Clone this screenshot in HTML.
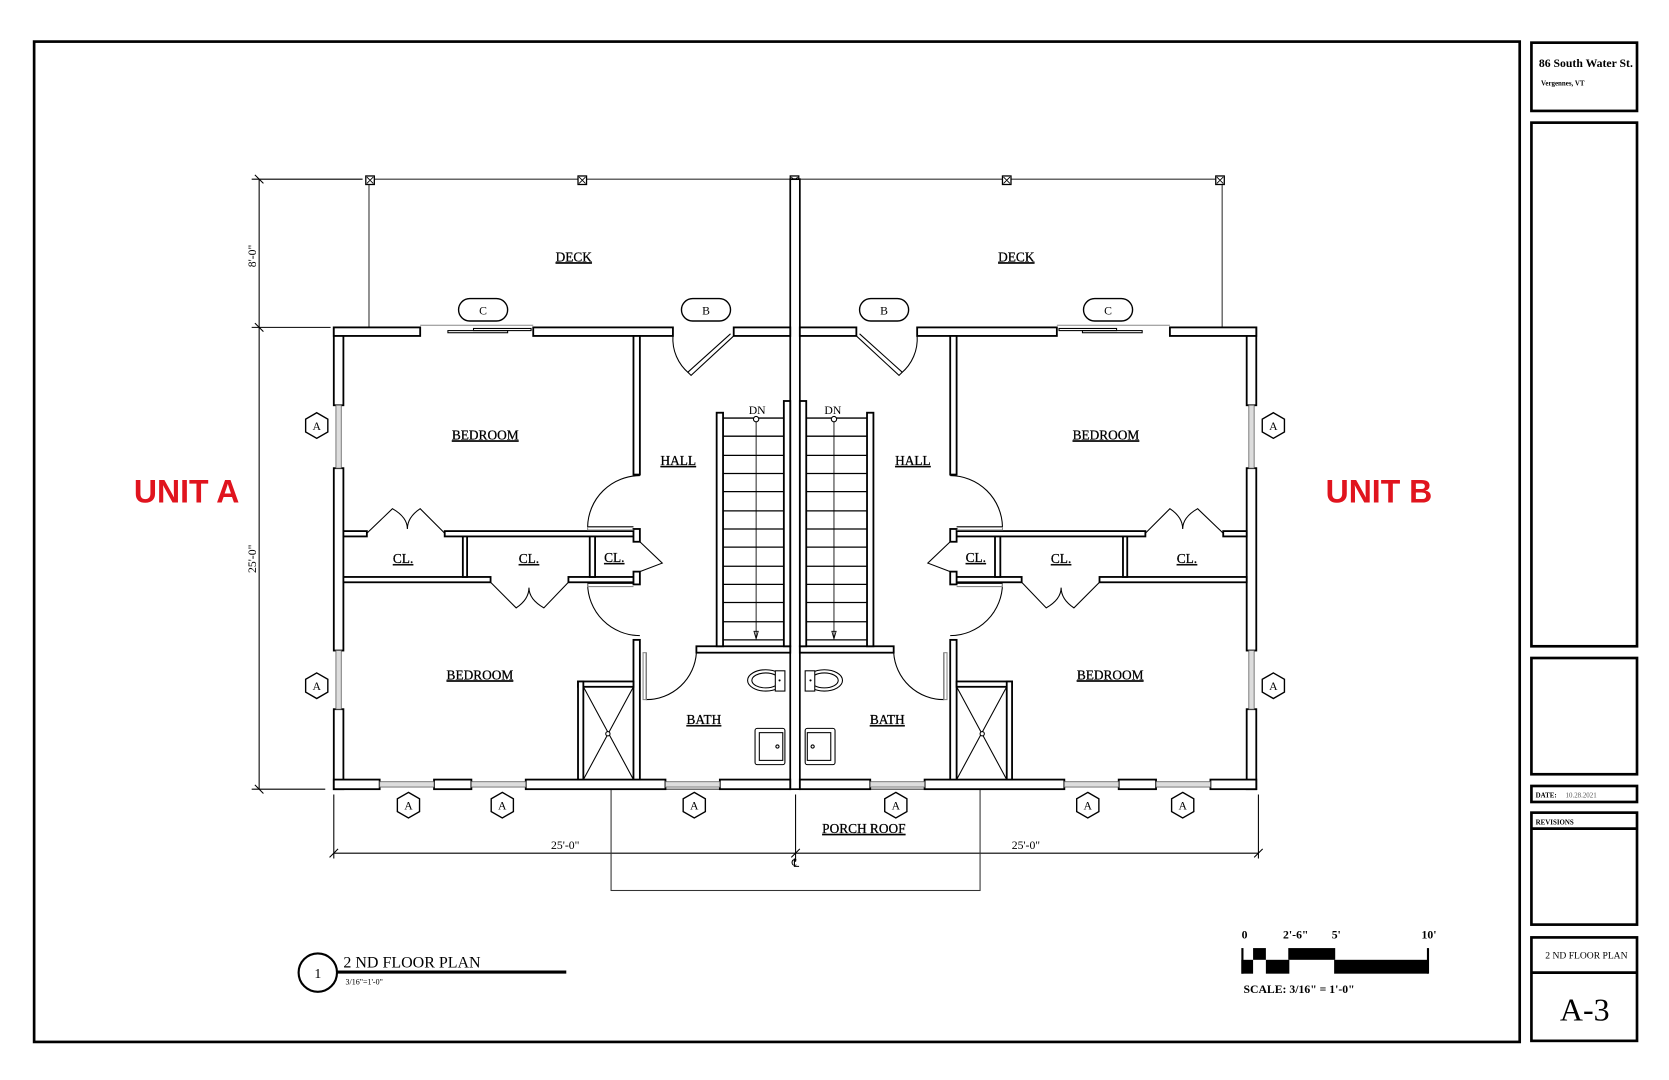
<!DOCTYPE html>
<html><head><meta charset="utf-8"><style>html,body{margin:0;padding:0;background:#fff}svg{display:block}</style></head>
<body>
<svg width="1669" height="1080" viewBox="0 0 1565 1012.7" preserveAspectRatio="none" xmlns="http://www.w3.org/2000/svg" font-family="'Liberation Serif',serif">
<rect x="0" y="0" width="1565" height="1013" fill="#fff"/>
<rect x="32" y="39" width="1393" height="938" fill="none" stroke="#000" stroke-width="2.5"/>
<g fill="none" stroke="#000" stroke-width="2.5">
<rect x="1436" y="40" width="99" height="64"/>
<rect x="1436" y="115" width="99" height="491"/>
<rect x="1436" y="617" width="99" height="109"/>
<rect x="1436" y="737" width="99" height="15"/>
<rect x="1436" y="762" width="99" height="105"/>
<line x1="1436" y1="777" x2="1535" y2="777"/>
<rect x="1436" y="879" width="99" height="97"/>
<line x1="1436" y1="912" x2="1535" y2="912"/>
</g>
<text x="1443" y="63" font-size="11" font-weight="bold">86 South Water St.</text>
<text x="1445" y="80" font-size="6.5" font-weight="bold">Vergennes, VT</text>
<text x="1440" y="748" font-size="6.5" font-weight="bold">DATE:</text>
<text x="1468" y="748" font-size="6.5" fill="#555">10.28.2021</text>
<text x="1440" y="773" font-size="6.5" font-weight="bold">REVISIONS</text>
<text x="1449" y="899" font-size="9">2 ND FLOOR PLAN</text>
<text x="1486" y="957" font-size="30" text-anchor="middle">A-3</text>

<g fill="none" stroke="#333" stroke-width="1">
<path d="M345,168 H1148 M346,168 V307 M1146,168 V307"/>
</g>
<g fill="#fff" stroke="#000" stroke-width="1.2">
<rect x="343" y="165" width="8" height="8"/><rect x="542" y="165" width="8" height="8"/><rect x="741" y="165" width="8" height="8"/><rect x="940" y="165" width="8" height="8"/><rect x="1140" y="165" width="8" height="8"/>
</g>
<g stroke="#000" stroke-width="0.8"><path d="M344,166l6,6M350,166l-6,6M543,166l6,6M549,166l-6,6M742,166l6,6M748,166l-6,6M941,166l6,6M947,166l-6,6M1141,166l6,6M1147,166l-6,6"/></g>

<g stroke="#000" stroke-width="1" fill="none">
<path d="M243,168 V740 M236,168 H340 M236,307 H310 M236,740 H305"/>
<path d="M239,164l8,8M239,303l8,8M239,736l8,8"/>
<path d="M313,800 H1180 M313,745 V805 M1180,745 V805 M746,745 V808"/>
<path d="M309,804l8,-8M1176,804l8,-8M742,804l8,-8"/>
<rect x="573" y="740" width="346" height="95" stroke="#333"/>
</g>
<text x="240" y="240" font-size="11" text-anchor="middle" transform="rotate(-90 240 240)">8'-0"</text>
<text x="240" y="524" font-size="11" text-anchor="middle" transform="rotate(-90 240 524)">25'-0"</text>
<text x="530" y="796" font-size="11" text-anchor="middle">25'-0"</text>
<text x="962" y="796" font-size="11" text-anchor="middle">25'-0"</text>
<text x="746" y="813" font-size="11" text-anchor="middle">℄</text>

<rect x="741" y="168" width="9" height="572" fill="#fff" stroke="#000" stroke-width="1.6"/>

<defs>
<g id="unit">
 <g fill="#fff" stroke="#000" stroke-width="1.7">
  <rect x="313" y="307" width="9" height="73"/>
  <rect x="313" y="439" width="9" height="171"/>
  <rect x="313" y="665" width="9" height="75"/>
  <rect x="313" y="307" width="81" height="8"/>
  <rect x="500" y="307" width="131" height="8"/>
  <rect x="688" y="307" width="53" height="8"/>
  <rect x="313" y="731" width="43" height="9"/>
  <rect x="407" y="731" width="35" height="9"/>
  <rect x="493" y="731" width="131" height="9"/>
  <rect x="675" y="731" width="66" height="9"/>
  <rect x="594" y="315" width="6" height="130"/>
  <rect x="322" y="498" width="22" height="5"/>
  <rect x="417" y="498" width="180" height="5"/>
  <rect x="322" y="541" width="138" height="5"/>
  <rect x="533" y="541" width="64" height="5"/>
  <rect x="434" y="503" width="4" height="38"/>
  <rect x="553" y="503" width="5" height="38"/>
  <rect x="594" y="496" width="6" height="12"/>
  <rect x="594" y="536" width="6" height="12"/>
  <rect x="594" y="600" width="6" height="131"/>
  <rect x="653" y="606" width="88" height="6"/>
  <rect x="542" y="639" width="52" height="5"/>
  <rect x="542" y="639" width="5" height="92"/>
  <rect x="672" y="387" width="6" height="219"/>
  <rect x="735" y="376" width="6" height="230"/>
 </g>
 <g fill="#ddd" stroke="#666" stroke-width="0.8">
  <rect x="315" y="380" width="5" height="59"/>
  <rect x="315" y="610" width="5" height="55"/>
  <rect x="356" y="733" width="51" height="5"/>
  <rect x="442" y="733" width="51" height="5"/>
  <rect x="624" y="733" width="51" height="5"/>
 </g>
 <g stroke="#000" stroke-width="1" fill="none">
  <path d="M394,305 H500" stroke="#888"/>
  <rect x="420" y="310" width="56" height="2"/>
  <rect x="444" y="308" width="54" height="2"/>
 </g>
 <g fill="none" stroke="#000" stroke-width="1">
  <path d="M688,315 L648,352 L645,349 L685,313"/>
  <path d="M631,315 A42,42 0 0 0 646,350"/>
  <path d="M600,446 A49,49 0 0 0 551,494 H594"/>
  <path d="M551,494 V497 H594" stroke="#888"/>
  <path d="M600,596 A49,49 0 0 1 551,547 H594"/>
  <path d="M551,547 V550 H594" stroke="#888"/>
  <path d="M600,508 L621,528 L600,536"/>
  <path d="M344,500 L368,477 Q382,485 382,496 Q382,485 394,477 L417,500"/>
  <path d="M460,546 L484,570 Q496,562 496,551 Q496,562 510,570 L533,546"/>
  <path d="M606,612 V656 A47,47 0 0 0 653,612"/>
  <rect x="603" y="612" width="3" height="44" stroke="#888"/>
 </g>
 <g stroke="#000" stroke-width="1.2">
  <path d="M678,392H735M678,409H735M678,427H735M678,444H735M678,461H735M678,479H735M678,496H735M678,513H735M678,531H735M678,548H735M678,565H735M678,583H735M678,600H735"/>
  <path d="M709,392 V598" stroke-width="0.8"/>
 </g>
 <circle cx="709" cy="393" r="2.5" fill="#fff" stroke="#000"/>
 <path d="M707,592 L709,599 L711,592Z" fill="none" stroke="#000" stroke-width="0.8"/>
 <g fill="none" stroke="#000" stroke-width="1">
  <rect x="547" y="644" width="47" height="87"/>
  <path d="M547,644 L594,731 M594,644 L547,731"/>
 </g>
 <circle cx="570" cy="688" r="2" fill="#fff" stroke="#000"/>
 <g fill="none" stroke="#000" stroke-width="1">
  <ellipse cx="718" cy="638" rx="17" ry="10"/>
  <ellipse cx="718" cy="638" rx="13" ry="7"/>
  <rect x="727" y="629" width="9" height="19" fill="#fff"/>
  <rect x="708" y="683" width="28" height="34" rx="2"/>
  <rect x="712" y="687" width="22" height="26"/>
 </g>
 <circle cx="731" cy="638" r="1" fill="#000"/>
 <circle cx="729" cy="700" r="1.5" fill="none" stroke="#000"/>
</g>
</defs>
<use href="#unit"/>
<use href="#unit" transform="matrix(-1,0,0,1,1491,0)"/>

<g fill="#fff" stroke="#000" stroke-width="1.3">
<path d="M0,-12 L10.4,-6 L10.4,6 L0,12 L-10.4,6 L-10.4,-6Z" transform="translate(297,399)"/>
<path d="M0,-12 L10.4,-6 L10.4,6 L0,12 L-10.4,6 L-10.4,-6Z" transform="translate(297,643)"/>
<path d="M0,-12 L10.4,-6 L10.4,6 L0,12 L-10.4,6 L-10.4,-6Z" transform="translate(383,755)"/>
<path d="M0,-12 L10.4,-6 L10.4,6 L0,12 L-10.4,6 L-10.4,-6Z" transform="translate(471,755)"/>
<path d="M0,-12 L10.4,-6 L10.4,6 L0,12 L-10.4,6 L-10.4,-6Z" transform="translate(651,755)"/>
<path d="M0,-12 L10.4,-6 L10.4,6 L0,12 L-10.4,6 L-10.4,-6Z" transform="translate(840,755)"/>
<path d="M0,-12 L10.4,-6 L10.4,6 L0,12 L-10.4,6 L-10.4,-6Z" transform="translate(1020,755)"/>
<path d="M0,-12 L10.4,-6 L10.4,6 L0,12 L-10.4,6 L-10.4,-6Z" transform="translate(1109,755)"/>
<path d="M0,-12 L10.4,-6 L10.4,6 L0,12 L-10.4,6 L-10.4,-6Z" transform="translate(1194,399)"/>
<path d="M0,-12 L10.4,-6 L10.4,6 L0,12 L-10.4,6 L-10.4,-6Z" transform="translate(1194,643)"/>
<rect x="430" y="280" width="46" height="21" rx="10.5"/>
<rect x="639" y="280" width="46" height="21" rx="10.5"/>
<rect x="806" y="280" width="46" height="21" rx="10.5"/>
<rect x="1016" y="280" width="46" height="21" rx="10.5"/>
</g>
<g font-size="11" text-anchor="middle">
<text x="297" y="403">A</text><text x="297" y="647">A</text><text x="383" y="759">A</text><text x="471" y="759">A</text><text x="651" y="759">A</text><text x="840" y="759">A</text><text x="1020" y="759">A</text><text x="1109" y="759">A</text><text x="1194" y="403">A</text><text x="1194" y="647">A</text>
<text x="453" y="295">C</text><text x="662" y="295">B</text><text x="829" y="295">B</text><text x="1039" y="295">C</text>
</g>

<g font-size="12.5" text-anchor="middle" text-decoration="underline" stroke="#000" stroke-width="0.25">
<text x="538" y="245">DECK</text><text x="953" y="245">DECK</text>
<text x="455" y="412">BEDROOM</text><text x="1037" y="412">BEDROOM</text>
<text x="636" y="436">HALL</text><text x="856" y="436">HALL</text>
<text x="378" y="528">CL.</text><text x="496" y="528">CL.</text><text x="576" y="527">CL.</text>
<text x="915" y="527">CL.</text><text x="995" y="528">CL.</text><text x="1113" y="528">CL.</text>
<text x="450" y="637">BEDROOM</text><text x="1041" y="637">BEDROOM</text>
<text x="660" y="679">BATH</text><text x="832" y="679">BATH</text>
<text x="810" y="781">PORCH ROOF</text>
</g>
<g font-size="11" text-anchor="middle"><text x="710" y="388">DN</text><text x="781" y="388">DN</text></g>

<text x="175" y="471" font-family="'Liberation Sans',sans-serif" font-size="30" font-weight="bold" fill="#e0141e" text-anchor="middle">UNIT A</text>
<text x="1293" y="471" font-family="'Liberation Sans',sans-serif" font-size="30" font-weight="bold" fill="#e0141e" text-anchor="middle">UNIT B</text>

<circle cx="298" cy="912" r="18" fill="none" stroke="#000" stroke-width="2"/>
<text x="298" y="917" font-size="13" text-anchor="middle">1</text>
<line x1="316" y1="911.5" x2="531" y2="911.5" stroke="#000" stroke-width="3"/>
<text x="322" y="907" font-size="15">2 ND FLOOR PLAN</text>
<text x="324" y="923" font-size="7.5">3/16"=1'-0"</text>

<g fill="#000">
<rect x="1175" y="889" width="12" height="11"/>
<rect x="1208" y="889" width="44" height="11"/>
<rect x="1164" y="900" width="11" height="13"/>
<rect x="1187" y="900" width="22" height="13"/>
<rect x="1251" y="900" width="88" height="13"/>
<rect x="1164" y="889" width="2" height="24"/>
<rect x="1338" y="889" width="2" height="24"/>
</g>
<g font-size="11" font-weight="bold" text-anchor="middle">
<text x="1167" y="880">0</text><text x="1215" y="880">2'-6"</text><text x="1253" y="880">5'</text><text x="1340" y="880">10'</text>
</g>
<text x="1166" y="931" font-size="11" font-weight="bold">SCALE: 3/16" = 1'-0"</text>
</svg>
</body></html>
